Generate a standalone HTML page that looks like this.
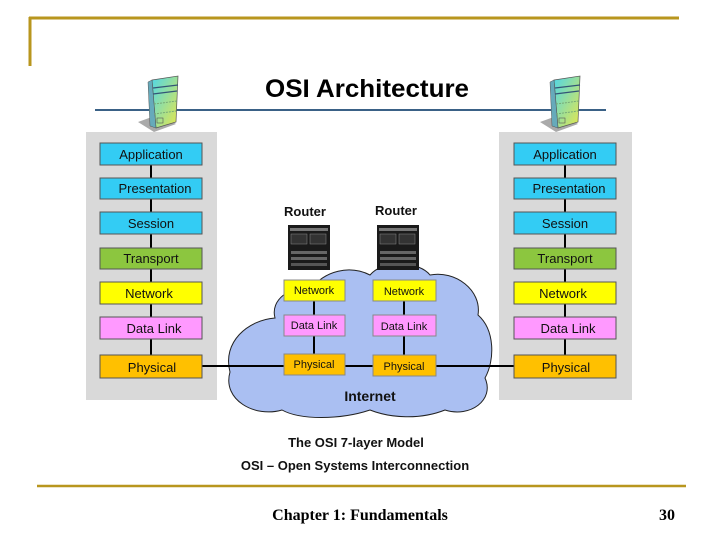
<!DOCTYPE html>
<html><head><meta charset="utf-8"><style>
body{margin:0;width:720px;height:540px;background:#fff;overflow:hidden}
</style></head><body>
<svg width="720" height="540" xmlns="http://www.w3.org/2000/svg" font-family="Liberation Sans, DejaVu Sans, sans-serif">
<defs>
<linearGradient id="srv" x1="0" y1="0" x2="1" y2="1"><stop offset="0" stop-color="#4fd6e8"/><stop offset="1" stop-color="#e8e84a"/></linearGradient>
<g id="server">
<path d="M-10 42 L12 34 L28 44 L6 52 Z" fill="#aaa"/>
<path d="M4 0 L30 -4 L28 42 L8 48 Z" fill="url(#srv)" stroke="#555" stroke-width="0.7"/>
<path d="M4 0 L0 2 L2 46 L8 48 Z" fill="#6ab" stroke="#555" stroke-width="0.5"/>
<line x1="5" y1="8" x2="30" y2="5" stroke="#357" stroke-width="1.2"/><line x1="5" y1="14" x2="29" y2="11" stroke="#357" stroke-width="1.2"/>
<line x1="6" y1="24" x2="29" y2="21" stroke="#7a7" stroke-dasharray="2 1"/><line x1="6" y1="34" x2="28" y2="31" stroke="#7a7" stroke-dasharray="2 1"/>
<rect x="9" y="38" width="6" height="5" fill="none" stroke="#555" stroke-width="0.6"/>
</g>
<g id="router">
<rect x="0" y="0" width="42" height="45" fill="#1a1a1a"/>
<rect x="2" y="3" width="38" height="3" fill="#777"/>
<rect x="3" y="9" width="16" height="10" fill="#333" stroke="#888" stroke-width="0.5"/>
<rect x="22" y="9" width="16" height="10" fill="#333" stroke="#888" stroke-width="0.5"/>
<rect x="3" y="26" width="36" height="3" fill="#666"/><rect x="3" y="32" width="36" height="3" fill="#666"/><rect x="3" y="38" width="36" height="3" fill="#555"/>
</g>
</defs>
<line x1="29" y1="18" x2="679" y2="18" stroke="#b8961e" stroke-width="3"/>
<line x1="30" y1="17" x2="30" y2="66" stroke="#b8961e" stroke-width="3"/>
<line x1="37" y1="486" x2="686" y2="486" stroke="#b8961e" stroke-width="2.5"/>
<line x1="95" y1="110" x2="606" y2="110" stroke="#3a6186" stroke-width="2"/>
<text x="367" y="97" font-size="25" font-weight="bold" text-anchor="middle" fill="#000" textLength="204" lengthAdjust="spacingAndGlyphs">OSI Architecture</text>
<use href="#server" x="148" y="80"/>
<use href="#server" x="550" y="80"/>
<rect x="86" y="132" width="131" height="268" fill="#d9d9d9"/>
<rect x="499" y="132" width="133" height="268" fill="#d9d9d9"/>
<path d="M230 372 C222 342 248 320 275 318 C270 300 290 285 310 290 C325 270 350 265 370 275 C385 258 420 262 430 275 C455 270 482 290 478 315 C495 330 495 360 485 378 C495 400 470 418 445 410 C420 420 390 418 370 410 C340 420 300 420 282 410 C255 418 222 400 230 372 Z" fill="#aabff2" stroke="#222" stroke-width="1"/>
<g stroke="#000" stroke-width="2">
<line x1="151" y1="155" x2="151" y2="370"/>
<line x1="565" y1="155" x2="565" y2="370"/>
<line x1="202" y1="366" x2="514" y2="366"/>
<line x1="314" y1="290" x2="314" y2="365"/>
<line x1="404" y1="290" x2="404" y2="365"/>
</g>
<g font-size="13" text-anchor="middle" fill="#111">
<rect x="100" y="143" width="102" height="22" fill="#33ccf4" stroke="#555"/><text x="151" y="159">Application</text>
<rect x="100" y="178" width="102" height="21" fill="#33ccf4" stroke="#555"/><text x="155" y="193">Presentation</text>
<rect x="100" y="212" width="102" height="22" fill="#33ccf4" stroke="#555"/><text x="151" y="228">Session</text>
<rect x="100" y="248" width="102" height="21" fill="#8cc63f" stroke="#555"/><text x="151" y="263">Transport</text>
<rect x="100" y="282" width="102" height="22" fill="#ffff00" stroke="#555"/><text x="149" y="298">Network</text>
<rect x="100" y="317" width="102" height="22" fill="#ff99ff" stroke="#555"/><text x="154" y="333">Data Link</text>
<rect x="100" y="355" width="102" height="23" fill="#ffc000" stroke="#555"/><text x="152" y="372">Physical</text>
<rect x="514" y="143" width="102" height="22" fill="#33ccf4" stroke="#555"/><text x="565" y="159">Application</text>
<rect x="514" y="178" width="102" height="21" fill="#33ccf4" stroke="#555"/><text x="569" y="193">Presentation</text>
<rect x="514" y="212" width="102" height="22" fill="#33ccf4" stroke="#555"/><text x="565" y="228">Session</text>
<rect x="514" y="248" width="102" height="21" fill="#8cc63f" stroke="#555"/><text x="565" y="263">Transport</text>
<rect x="514" y="282" width="102" height="22" fill="#ffff00" stroke="#555"/><text x="563" y="298">Network</text>
<rect x="514" y="317" width="102" height="22" fill="#ff99ff" stroke="#555"/><text x="568" y="333">Data Link</text>
<rect x="514" y="355" width="102" height="23" fill="#ffc000" stroke="#555"/><text x="566" y="372">Physical</text>
</g>
<g font-size="11" text-anchor="middle" fill="#111">
<rect x="284" y="280" width="61" height="21" fill="#ffff00" stroke="#888"/><text x="314" y="294">Network</text>
<rect x="373" y="280" width="63" height="21" fill="#ffff00" stroke="#888"/><text x="404" y="295">Network</text>
<rect x="284" y="315" width="61" height="21" fill="#ff99ff" stroke="#888"/><text x="314" y="329">Data Link</text>
<rect x="373" y="315" width="63" height="21" fill="#ff99ff" stroke="#888"/><text x="404" y="330">Data Link</text>
<rect x="284" y="354" width="61" height="21" fill="#ffc000" stroke="#888"/><text x="314" y="368">Physical</text>
<rect x="373" y="355" width="63" height="21" fill="#ffc000" stroke="#888"/><text x="404" y="370">Physical</text>
</g>
<use href="#router" x="288" y="225"/>
<use href="#router" x="377" y="225"/>
<g font-weight="bold" text-anchor="middle" fill="#111">
<text x="305" y="216" font-size="13">Router</text>
<text x="396" y="215" font-size="13">Router</text>
<text x="370" y="401" font-size="14">Internet</text>
<text x="356" y="447" font-size="13">The OSI 7-layer Model</text>
<text x="355" y="470" font-size="13">OSI – Open Systems Interconnection</text>
</g>
<text x="360" y="520" font-family="Liberation Serif, serif" font-size="16" font-weight="bold" text-anchor="middle">Chapter 1: Fundamentals</text>
<text x="667" y="520" font-family="Liberation Serif, serif" font-size="16" font-weight="bold" text-anchor="middle">30</text>
</svg>
</body></html>
